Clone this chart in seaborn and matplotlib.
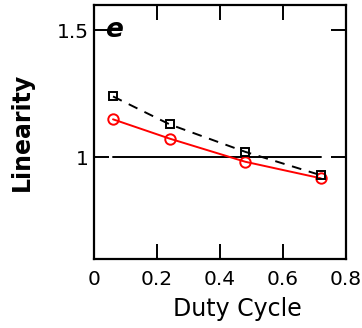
import matplotlib
matplotlib.use("Agg")
import matplotlib.pyplot as plt
import seaborn as sns
import pandas as pd

# Duty cycle sweep and linearity of the two configurations
duty_cycle = [0.06, 0.24, 0.48, 0.72]
linearity_square = [1.24, 1.13, 1.022, 0.93]
linearity_circle = [1.15, 1.074, 0.983, 0.918]

x_ticks = [0, 0.2, 0.4, 0.6, 0.8]
x_tick_labels = ["0", "0.2", "0.4", "0.6", "0.8"]
y_ticks = [1.0, 1.5]
y_tick_labels = ["1", "1.5"]

sns.set_style("ticks")
plt.rcParams["font.family"] = ["DejaVu Sans"]
plt.rcParams["text.color"] = "black"
plt.rcParams["axes.labelcolor"] = "black"
plt.rcParams["xtick.color"] = "black"
plt.rcParams["ytick.color"] = "black"
plt.rcParams["axes.edgecolor"] = "black"

fig = plt.figure(figsize=(3.62, 3.28), dpi=100)
ax = fig.add_axes([0.26, 0.21, 0.696, 0.775])

df_sq = pd.DataFrame({"x": duty_cycle, "y": linearity_square})
df_ci = pd.DataFrame({"x": duty_cycle, "y": linearity_circle})

# reference line at unity
ax.plot([duty_cycle[0], duty_cycle[-1]], [1, 1], color="black", lw=1.4, zorder=1)

sns.lineplot(data=df_sq, x="x", y="y", ax=ax, color="black", lw=1.4,
             linestyle=(0, (5, 4)), marker="s", markersize=6,
             markerfacecolor="none", markeredgecolor="black",
             markeredgewidth=1.4, zorder=3)
sns.lineplot(data=df_ci, x="x", y="y", ax=ax, color="red", lw=1.4,
             marker="o", markersize=7.5, markerfacecolor="none",
             markeredgecolor="red", markeredgewidth=1.4, zorder=2)

ax.set_xlim(0, 0.8)
ax.set_ylim(0.6, 1.6)
ax.set_xticks(x_ticks)
ax.set_xticklabels(x_tick_labels)
ax.set_yticks(y_ticks)
ax.set_yticklabels(y_tick_labels)
ax.tick_params(direction="in", length=11, width=1.4, top=True, right=True,
               colors="black", labelsize=14.5)
ax.tick_params(axis="x", pad=8)
ax.tick_params(axis="y", pad=4)
for s in ax.spines.values():
    s.set_linewidth(1.6)
    s.set_visible(True)
    s.set_color("black")

ax.set_xlabel("Duty Cycle", fontsize=17)
ax.xaxis.set_label_coords(0.567, -0.15)
ax.set_ylabel("Linearity", fontsize=17, fontweight="bold", labelpad=16)
ax.text(0.035, 1.5, "e", fontsize=19, fontweight="bold", fontstyle="italic",
        va="center", ha="left")

fig.savefig("out.png", dpi=100)
